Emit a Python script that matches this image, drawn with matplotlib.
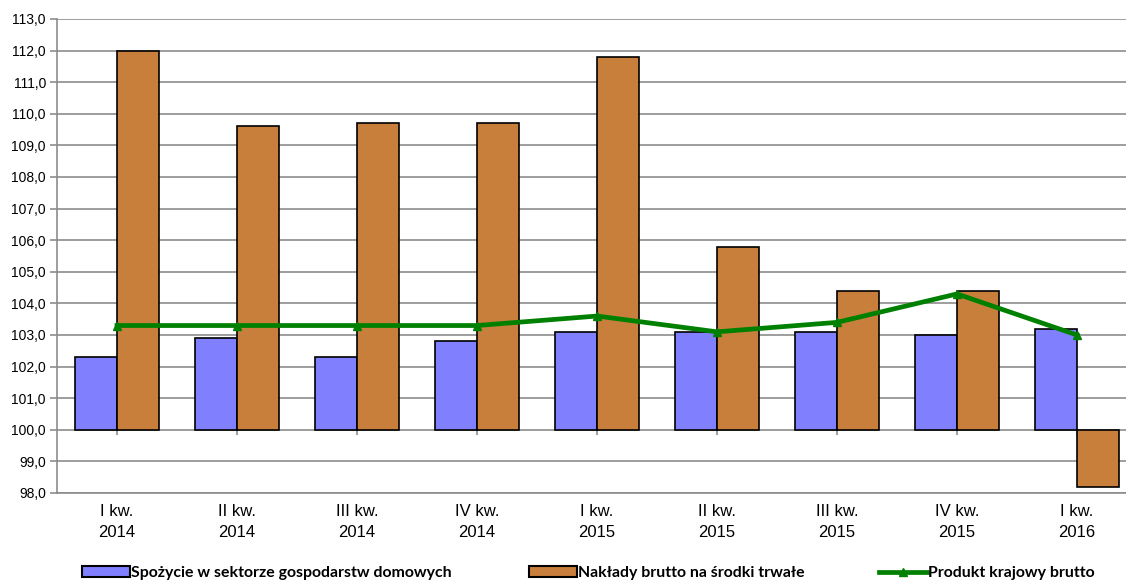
import numpy as np
import matplotlib.pyplot as plt
from matplotlib.patches import Patch
from matplotlib.lines import Line2D

# Quarterly indices (same period of previous year = 100)
quarters = ["I kw.\n2014", "II kw.\n2014", "III kw.\n2014", "IV kw.\n2014",
            "I kw.\n2015", "II kw.\n2015", "III kw.\n2015", "IV kw.\n2015",
            "I kw.\n2016"]
consumption = [102.3, 102.9, 102.3, 102.8, 103.1, 103.1, 103.1, 103.0, 103.2]
investment = [112.0, 109.6, 109.7, 109.7, 111.8, 105.8, 104.4, 104.4, 98.2]
gdp = [103.3, 103.3, 103.3, 103.3, 103.6, 103.1, 103.4, 104.3, 103.0]

labels = ["Spożycie w sektorze gospodarstw domowych",
          "Nakłady brutto na środki trwałe",
          "Produkt krajowy brutto"]

blue = "#8080FF"
brown = "#C77F3B"
green = "#008000"
grid_col = "#8c8c8c"

plt.rcParams['font.family'] = ['Liberation Sans', 'DejaVu Sans']

fig = plt.figure(figsize=(11.26, 5.81), dpi=100)
ax = fig.add_axes([57 / 1126, 88 / 581, 1080 / 1126, 474 / 581])

x = np.arange(len(quarters))
w = 0.35
base = 100.0

ax.bar(x - w / 2, np.array(consumption) - base, w, bottom=base, color=blue,
       edgecolor="black", linewidth=1.2, zorder=3)
ax.bar(x + w / 2, np.array(investment) - base, w, bottom=base, color=brown,
       edgecolor="black", linewidth=1.2, zorder=3)
ax.plot(x, gdp, color=green, linewidth=3.4, marker="^", markersize=6,
        zorder=4)

# category ticks sit on the 100 line
ax.vlines(x, base - 0.18, base, color=grid_col, linewidth=1.2, zorder=2)

ax.set_xlim(-0.5, 8.5)
ax.set_ylim(98, 113)
ax.set_yticks(np.arange(98, 113.5, 1))
ax.set_yticklabels([f"{v:.1f}".replace(".", ",") for v in np.arange(98, 113.5, 1)])
ax.set_xticks(x)
ax.set_xticklabels(quarters, fontsize=12, linespacing=1.45)
ax.tick_params(axis="x", length=0, pad=8)
ax.tick_params(axis="y", length=5, width=1.2, color=grid_col, labelsize=10,
               pad=3)

ax.grid(axis="y", color=grid_col, linewidth=1.2, zorder=0)
ax.set_axisbelow(True)
for side in ["top", "right"]:
    ax.spines[side].set_visible(False)
for side in ["left", "bottom"]:
    ax.spines[side].set_color(grid_col)
    ax.spines[side].set_linewidth(1.2)

handles = [
    Patch(facecolor=blue, edgecolor="black", linewidth=1.5),
    Patch(facecolor=brown, edgecolor="black", linewidth=1.5),
    Line2D([0], [0], color=green, linewidth=3.4, marker="^", markersize=6),
]
legend_x = [82 / 1126, 529 / 1126, 879 / 1126]
for h, lab, lx in zip(handles, labels, legend_x):
    fig.legend([h], [lab], loc="center left", bbox_to_anchor=(lx, 8 / 581),
               frameon=False, handlelength=3.0, handleheight=0.7,
               handletextpad=0.12, borderpad=0, borderaxespad=0,
               prop={"family": "Lato", "weight": "bold", "size": 11.4})

fig.savefig("out.png", dpi=100)
